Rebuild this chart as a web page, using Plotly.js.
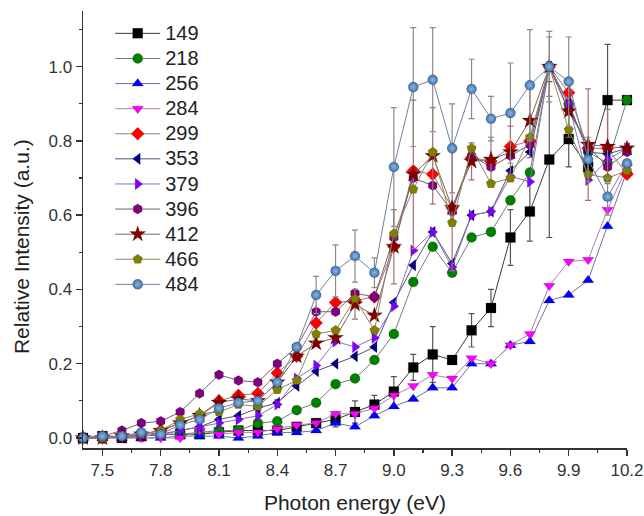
<!DOCTYPE html>
<html>
<head>
<meta charset="utf-8">
<script src="https://cdn.plot.ly/plotly-3.0.1.min.js"></script>
<style>
  html, body { margin: 0; padding: 0; background: #fff; }
  #chart { width: 644px; height: 516px; }
</style>
</head>
<body>
<div id="chart"></div>
<script>
// Photon energy grid (eV)
const energy = [7.4, 7.5, 7.6, 7.7, 7.8, 7.9, 8.0, 8.1, 8.2, 8.3, 8.4, 8.5, 8.6, 8.7, 8.8, 8.9,
                9.0, 9.1, 9.2, 9.3, 9.4, 9.5, 9.6, 9.7, 9.8, 9.9, 10.0, 10.1, 10.2];

// Relative intensity for each sample
const s149 = [0, 0.005, 0, 0.005, 0.01, 0.01, 0.01, 0.015, 0.02, 0.02, 0.02, 0.03, 0.04, 0.05, 0.07, 0.09,
              0.125, 0.19, 0.225, 0.21, 0.29, 0.35, 0.54, 0.61, 0.75, 0.805, 0.73, 0.91, 0.91];
const s218 = [0, 0, 0.005, 0.005, 0.01, 0.01, 0.015, 0.02, 0.02, 0.04, 0.045, 0.075, 0.095, 0.145, 0.16, 0.21,
              0.28, 0.42, 0.515, 0.445, 0.54, 0.555, 0.64, 0.715, 1.0, 0.9, 0.77, 0.74, 0.91];
const s256 = [0, 0, 0, 0, 0, 0.005, 0.005, 0.005, 0, 0.005, 0.015, 0.015, 0.02, 0.04, 0.03, 0.06,
              0.085, 0.105, 0.135, 0.135, 0.2, 0.2, 0.25, 0.26, 0.37, 0.385, 0.425, 0.57, 0.72];
const s284 = [0, 0, 0, 0, 0, 0, 0.02, 0.01, 0.015, 0.015, 0.025, 0.035, 0.04, 0.065, 0.065, 0.08,
              0.115, 0.14, 0.17, 0.16, 0.215, 0.2, 0.25, 0.28, 0.41, 0.475, 0.48, 0.615, 0.73];
const s299 = [0, 0, 0.005, 0.01, 0.02, 0.04, 0.06, 0.1, 0.115, 0.12, 0.175, 0.22, 0.31, 0.365, 0.37, 0.38,
              0.515, 0.72, 0.71, 0.62, 0.755, 0.745, 0.785, 0.8, 1.0, 0.93, 0.78, 0.78, 0.71];
const s353 = [0, 0, 0.005, 0.005, 0.01, 0.02, 0.03, 0.05, 0.06, 0.08, 0.095, 0.14, 0.18, 0.2, 0.22, 0.245,
              0.365, 0.465, 0.555, 0.47, 0.6, 0.61, 0.72, 0.77, 1.0, 0.9, 0.77, 0.765, 0.78];
const s379 = [0, 0, 0.005, 0.005, 0.01, 0.02, 0.03, 0.04, 0.05, 0.06, 0.09, 0.16, 0.195, 0.26, 0.245, 0.27,
              0.355, 0.505, 0.555, 0.46, 0.6, 0.61, 0.705, 0.69, 1.0, 0.9, 0.695, 0.75, 0.78];
const s396 = [0, 0.005, 0.02, 0.04, 0.045, 0.07, 0.12, 0.17, 0.155, 0.15, 0.2, 0.245, 0.34, 0.34, 0.39, 0.38,
              0.54, 0.7, 0.68, 0.61, 0.76, 0.73, 0.76, 0.79, 1.0, 0.885, 0.785, 0.73, 0.77];
const s412 = [0, 0, 0.005, 0.01, 0.02, 0.04, 0.06, 0.095, 0.105, 0.1, 0.15, 0.22, 0.255, 0.27, 0.36, 0.33,
              0.515, 0.71, 0.76, 0.62, 0.745, 0.75, 0.77, 0.855, 1.0, 0.88, 0.79, 0.785, 0.78];
const s466 = [0, 0, 0.005, 0.01, 0.02, 0.05, 0.065, 0.07, 0.09, 0.085, 0.13, 0.155, 0.28, 0.29, 0.375, 0.29,
              0.55, 0.67, 0.77, 0.58, 0.78, 0.685, 0.7, 0.81, 1.0, 0.83, 0.71, 0.7, 0.72];
const s484 = [0, 0.005, 0.005, 0.015, 0.01, 0.035, 0.05, 0.08, 0.095, 0.1, 0.15, 0.245, 0.385, 0.45, 0.49, 0.445,
              0.73, 0.945, 0.965, 0.78, 0.94, 0.86, 0.875, 0.95, 1.0, 0.96, 0.75, 0.65, 0.74];

// Standard deviations (error bars) where measured
const e149 = [0, 0, 0, 0, 0, 0, 0, 0, 0, 0, 0, 0, 0, 0.02, 0.03, 0.025,
              0.04, 0.035, 0.075, 0, 0.045, 0.05, 0.075, 0.08, 0.21, 0.075, 0, 0.15, 0];
const e412 = [0, 0, 0, 0, 0, 0, 0, 0, 0, 0, 0, 0, 0, 0, 0.04, 0,
              0.1, 0.2, 0.13, 0.17, 0.05, 0.06, 0.07, 0.1, 0.08, 0.07, 0.15, 0.1, 0];
const e484 = [0, 0, 0, 0, 0, 0, 0, 0, 0, 0, 0, 0, 0.05, 0.07, 0.07, 0.04,
              0.16, 0.16, 0.14, 0.12, 0.08, 0.06, 0.135, 0.15, 0.095, 0.12, 0.06, 0.05, 0];

const seriesNames = ['149', '218', '256', '284', '299', '353', '379', '396', '412', '466', '484'];
const seriesData = [s149, s218, s256, s284, s299, s353, s379, s396, s412, s466, s484];
const seriesErr = [e149, null, null, null, null, null, null, null, e412, null, e484];
const markerSymbols = ['square', 'circle', 'triangle-up', 'triangle-down', 'diamond', 'triangle-left',
                       'triangle-right', 'hexagon', 'star', 'pentagon', 'circle'];
const markerColors = ['#000000', '#008000', '#0000ff', '#ff00ff', '#ff0000', '#000080',
                      '#8000ff', '#800080', '#800000', '#808000', '#3c74b0'];
const lineColors = ['#3a3a3a', '#6f806f', '#6f6fb0', '#b080b0', '#a07a7a', '#50507a',
                    '#8a70b8', '#7a5a7a', '#806060', '#8a8a60', '#7080a0'];
const errColors = ['#555555', null, null, null, null, null, null, null, '#a07070', null, '#8a8a8a'];

const traces = seriesNames.map((name, i) => {
  const t = {
    type: 'scatter',
    mode: 'lines+markers',
    // larger glyphs in the key while the row pitch follows the base legend font
    name: '<span style="font-size:20px">' + name + '</span>',
    x: energy,
    y: seriesData[i],
    cliponaxis: false,
    line: { color: lineColors[i], width: 1 },
    marker: {
      symbol: markerSymbols[i],
      size: markerSymbols[i] === 'star' ? 12 : 10,
      color: markerColors[i],
      line: { color: 'rgba(0,0,0,0.35)', width: 0.5 }
    }
  };
  if (i === 10) {
    t.marker.gradient = { type: 'radial', color: '#8fb6dc' };
  }
  if (seriesErr[i]) {
    t.error_y = { type: 'data', array: seriesErr[i], visible: true,
                  color: errColors[i], thickness: 1.2, width: 3 };
  }
  return t;
});

const fontFamily = 'Arial, "Liberation Sans", sans-serif';
const tickFont = { family: fontFamily, size: 17, color: '#333' };
const titleFont = { family: fontFamily, size: 21, color: '#222' };

const layout = {
  width: 644, height: 516,
  margin: { l: 83, r: 17, t: 11, b: 68 },
  paper_bgcolor: '#fff', plot_bgcolor: '#fff',
  showlegend: true,
  legend: {
    x: 0.05, y: 0.989, xanchor: 'left', yanchor: 'top',
    bgcolor: 'rgba(0,0,0,0)', borderwidth: 0,
    font: { family: fontFamily, size: 17, color: '#222' },
    itemwidth: 45, tracegroupgap: 0
  },
  xaxis: {
    range: [7.4, 10.2], tick0: 7.5, dtick: 0.3, tickformat: '.1f',
    showgrid: false, zeroline: false,
    showline: true, linecolor: '#333', linewidth: 1.5,
    ticks: 'outside', ticklen: 6, tickwidth: 1.5, tickcolor: '#333',
    minor: { ticks: 'outside', ticklen: 3, tickwidth: 1.2, tickcolor: '#333', tick0: 7.5, dtick: 0.15, showgrid: false },
    tickfont: tickFont,
    title: { text: 'Photon energy (eV)', font: titleFont, standoff: 16 }
  },
  yaxis: {
    range: [-0.027, 1.15], tick0: 0, dtick: 0.2, tickformat: '.1f',
    showgrid: false, zeroline: false,
    showline: true, linecolor: '#333', linewidth: 1.5,
    ticks: 'outside', ticklen: 6, tickwidth: 1.5, tickcolor: '#333',
    minor: { ticks: 'outside', ticklen: 3, tickwidth: 1.2, tickcolor: '#333', tick0: 0, dtick: 0.1, showgrid: false },
    tickfont: tickFont
  },
  annotations: [{
    text: 'Relative Intensity (a.u.)', textangle: -90,
    xref: 'paper', yref: 'paper', x: -0.112, y: 0.46,
    xanchor: 'center', yanchor: 'middle', showarrow: false,
    font: titleFont
  }]
};

Plotly.newPlot('chart', traces, layout, { displayModeBar: false, staticPlot: true });
</script>
</body>
</html>
